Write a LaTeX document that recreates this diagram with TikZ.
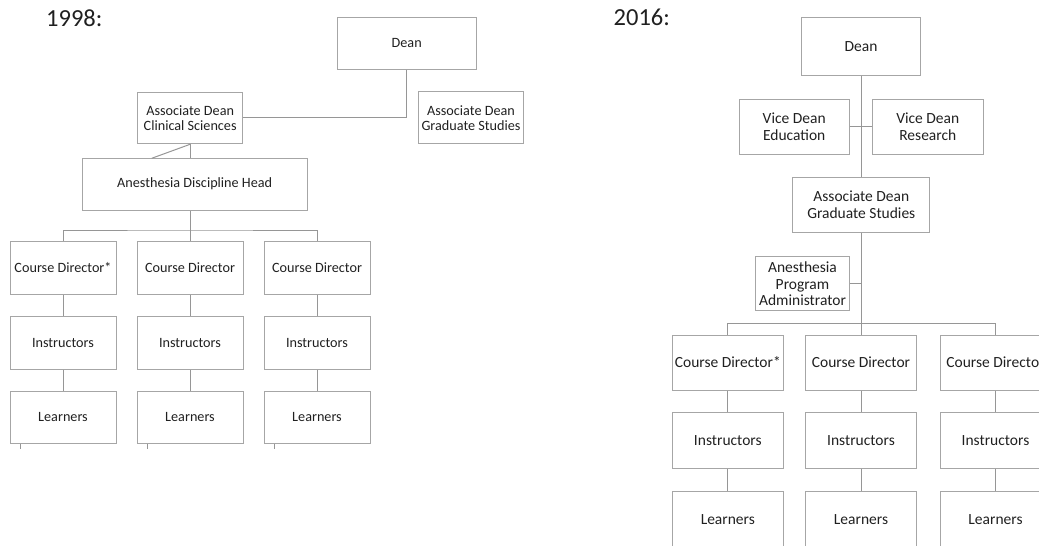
\documentclass[tikz,border=0pt]{standalone}
\usepackage{fontspec}
\setmainfont{Carlito}
\definecolor{boxline}{RGB}{166,166,166}
\definecolor{linkline}{RGB}{150,150,150}
\definecolor{ink}{RGB}{32,32,32}
\begin{document}
\begin{tikzpicture}[x=1pt,y=-1pt,
  box/.style={draw=boxline, line width=1pt, inner sep=0pt, align=center, text=ink},
  oldbox/.style={box, font=\fontsize{14.2}{15}\selectfont},
  newbox/.style={box, font=\fontsize{15.5}{17}\selectfont},
  link/.style={draw=linkline, line width=1pt},
  yearlabel/.style={font=\fontsize{24.5}{28}\selectfont, text=ink, inner sep=0pt, anchor=base west}]
\useasboundingbox (0,0) rectangle (1039,546);
\clip (0,0) rectangle (1039,546);

% ---------------- 1998 ----------------
\node[yearlabel] (y98) at (46,26) {1998:};
\node[oldbox, minimum width=138.7pt, minimum height=51.7pt] (dean1) at (406.7,43.2) {Dean};
\node[oldbox, minimum width=105.4pt, minimum height=52.3pt] (ags1) at (471,117.8) {Associate Dean\\Graduate Studies};
\node[oldbox, minimum width=105pt, minimum height=51.7pt] (acs1) at (190.2,117.9) {Associate Dean\\Clinical Sciences};
\node[oldbox, minimum width=224.7pt, minimum height=51.7pt] (adh1) at (194.7,184.2) {Anesthesia Discipline Head};

\foreach \i/\x/\t in {1/63/{Course Director*},2/190/{Course Director},3/317/{Course Director}}{
  \node[oldbox, minimum width=106pt, minimum height=53pt] (cd1\i) at (\x,267.5) {\t};
  \node[oldbox, minimum width=106pt, minimum height=53pt] (in1\i) at (\x,342.5) {Instructors};
  \node[oldbox, minimum width=106pt, minimum height=52pt] (le1\i) at (\x,417) {Learners};
  \draw[link] (cd1\i) -- (in1\i);
  \draw[link] (in1\i) -- (le1\i);
  \coordinate (tick1\i) at ([xshift=10.5pt]le1\i.south west);
  \draw[link] (tick1\i) -- ++(0,5);
}

\coordinate (slant1) at (151.7,158.3);
\coordinate (bus1) at (190,230);
\draw[link] (dean1.south) -- (dean1.south |- acs1.east) -- (acs1.east);
\draw[link] (acs1.south) -- (acs1.south |- adh1.north);
\draw[link] (acs1.south) -- (slant1);
\draw[link] (adh1.south -| bus1) -- (bus1);
\draw[link] (cd11.north) |- (bus1) -| (cd13.north);
\draw[link] (bus1) -- (cd12.north);

% ---------------- 2016 ----------------
\node[yearlabel] (y16) at (613.5,25.3) {2016:};
\node[newbox, minimum width=118.6pt, minimum height=58pt] (dean2) at (861,46.3) {Dean};
\node[newbox, minimum width=110.3pt, minimum height=54.7pt] (vde) at (794.2,126.7) {Vice Dean\\Education};
\node[newbox, minimum width=111pt, minimum height=54.7pt] (vdr) at (927.8,126.7) {Vice Dean\\Research};
\node[newbox, minimum width=137.3pt, minimum height=54.8pt] (ags2) at (861.3,204.9) {Associate Dean\\Graduate Studies};
\node[newbox, minimum width=93.6pt, minimum height=54.3pt, font=\fontsize{15.5}{16.3}\selectfont] (apa) at (802.5,283.8) {Anesthesia\\Program\\Administrator};

\foreach \i/\x/\t in {1/727.8/{Course Director*},2/861/{Course Director},3/995.5/{Course Director}}{
  \node[newbox, minimum width=111pt, minimum height=55pt] (cd2\i) at (\x,362.5) {\t};
  \node[newbox, minimum width=111pt, minimum height=55.6pt] (in2\i) at (\x,440.5) {Instructors};
  \node[newbox, minimum width=111pt, minimum height=58pt] (le2\i) at (\x,520) {Learners};
  \draw[link] (cd2\i) -- (in2\i);
  \draw[link] (in2\i) -- (le2\i);
}

\coordinate (bus2) at (861,323.3);
\draw[link] (dean2.south) -- (dean2.south |- ags2.north);
\draw[link] (vde.east) -- (vdr.west);
\draw[link] (apa.east) -- (apa.east -| bus2);
\draw[link] (ags2.south -| bus2) -- (bus2);
\draw[link] (cd21.north) |- (bus2) -| (cd23.north);
\draw[link] (bus2) -- (cd22.north);
\end{tikzpicture}
\end{document}
